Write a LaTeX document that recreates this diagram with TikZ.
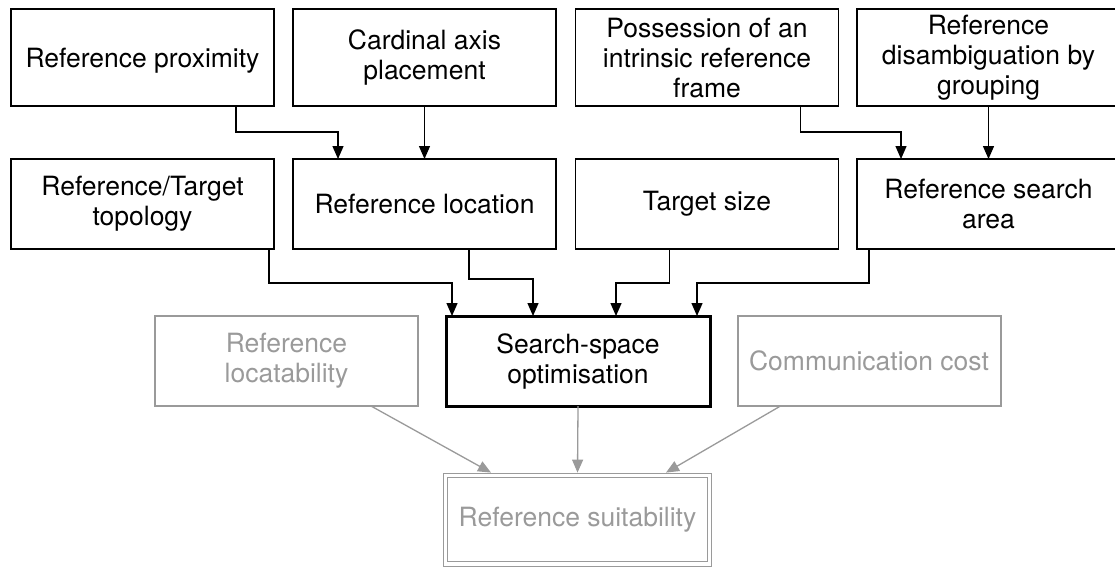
\documentclass[tikz,border=0pt]{standalone}
\usepackage{fontspec}
\setmainfont{TeX Gyre Heros}
\usetikzlibrary{arrows.meta}
\definecolor{muted}{HTML}{9A9A9A}
\begin{document}
\begin{tikzpicture}[x=1pt,y=-1pt,
  every node/.style={font=\fontsize{26.5}{30}\selectfont, align=center, inner sep=0pt, outer sep=0pt},
  factor/.style={draw, line width=1.3pt, minimum width=263pt, minimum height=90pt},
  tallfactor/.style={factor, minimum height=97pt},
  dimfactor/.style={draw=muted, text=muted, line width=2pt, minimum width=263pt, minimum height=90pt},
  keyfactor/.style={draw, line width=3pt, minimum width=264pt, minimum height=90pt},
  goalbox/.style={draw=muted, text=muted, double, double distance=3.2pt, line width=1.3pt,
    minimum width=264pt, minimum height=88.5pt, outer sep=2.9pt},
  link/.style={draw, line width=1.3pt, -{Triangle[length=13pt,width=11pt]}},
  glink/.style={draw=muted, line width=1.3pt, -{Triangle[length=13pt,width=11pt]}}
]
\useasboundingbox (0,0) rectangle (1115,566);
\clip (0,0) rectangle (1115,566);

% top row
\node[tallfactor] (prox) at (142.5,57.5) {\raisebox{0pt}[\height][0pt]{Reference proximity}};
\node[tallfactor] (card) at (424.5,57.5) {Cardinal axis\\placement};
\node[tallfactor] (poss) at (707,57.5) {Possession of an\\intrinsic reference\\frame};
\node[tallfactor] (dis) at (988.5,57.5) {Reference\\disambiguation by\\grouping};

% second row
\node[factor] (topo) at (142.5,204) {Reference/Target\\topology};
\node[factor] (loc) at (424.5,204) {Reference location};
\node[factor] (tgt) at (707,204) {Target size};
\node[factor] (area) at (988.5,204) {Reference search\\area};

% third row
\node[dimfactor] (locat) at (286.5,361) {Reference\\locatability};
\node[keyfactor] (search) at (578,361) {Search-space\\optimisation};
\node[dimfactor] (comm) at (869,361) {Communication cost};

% goal
\node[goalbox] (suit) at (577.5,519.75) {Reference suitability};

% connectors into the second row
\draw[link] ([xshift=225pt]prox.south west) -- ++(0,26) -| ([xshift=45pt]loc.north west);
\draw[link] (card.south) -- (loc.north);
\draw[link] ([xshift=225pt]poss.south west) -- ++(0,26) -| ([xshift=44pt]area.north west);
\draw[link] (dis.south) -- (area.north);

% connectors into the search-space node
\draw[link] ([xshift=258pt]topo.south west) -- ++(0,34) -| ([xshift=6pt]search.north west);
\draw[link] ([xshift=176pt]loc.south west) -- ++(0,30) -| ([xshift=87pt]search.north west);
\draw[link] ([xshift=94pt]tgt.south west) -- ++(0,34) -| ([xshift=170pt]search.north west);
\draw[link] ([xshift=12pt]area.south west) -- ++(0,34) -| ([xshift=251pt]search.north west);

% connectors into the goal
\draw[glink] ([xshift=216pt]locat.south west) -- ([xshift=48.4pt]suit.north west);
\draw[glink] (search.south) -- (suit.north);
\draw[glink] ([xshift=43pt]comm.south west) -- ([xshift=223.4pt]suit.north west);
\end{tikzpicture}
\end{document}
